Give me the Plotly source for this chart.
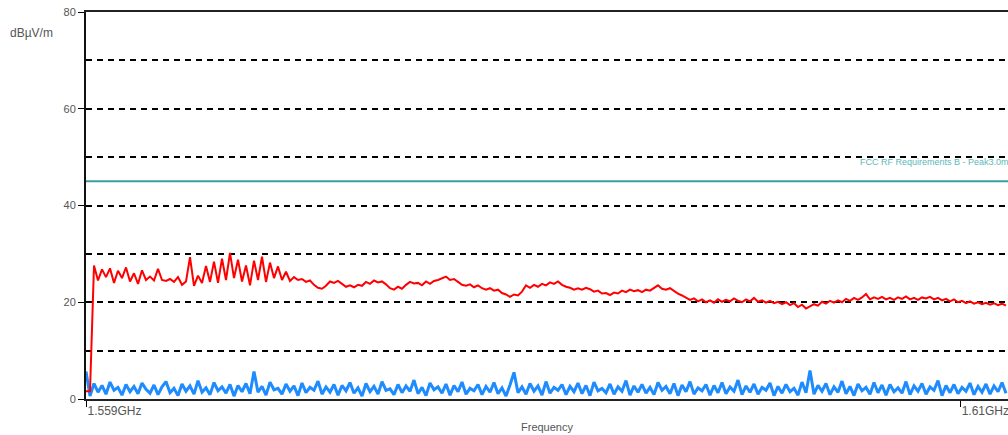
import plotly.graph_objects as go

# ---- data ----
freq_start_mhz = 1559.0
px_per_mhz = 17.14
freq_step_mhz = 4 / px_per_mhz     # sweep point spacing
limit_name = "FCC RF Requirements B - Peak3.0m"
limit_db = [45.0, 45.0]

peak_db = [
    1.6, 1.6, 27.6, 24.5, 26.8, 25.2, 27.0, 24.0, 26.5, 25.0,
    27.2, 24.3, 26.0, 23.8, 26.6, 24.6, 25.3, 24.5, 26.9, 24.6,
    24.4, 24.8, 24.2, 25.2, 23.6, 24.3, 29.3, 23.4, 25.5, 24.0,
    27.5, 24.2, 28.4, 24.0, 29.0, 24.6, 30.2, 25.0, 28.8, 24.3,
    27.6, 23.5, 28.6, 24.6, 29.4, 24.2, 28.2, 25.0, 27.4, 24.6,
    26.3, 24.4, 25.2, 24.6, 24.8, 24.2, 24.5, 23.6, 23.0, 22.8,
    23.4, 24.3, 24.0, 24.4, 23.8, 23.2, 23.5, 23.1, 23.6, 23.4,
    24.2, 23.8, 24.5, 24.1, 24.3, 23.7, 22.9, 22.6, 23.2, 22.8,
    23.6, 24.2, 23.9, 24.0, 23.5, 24.3, 23.8, 24.4, 24.6, 24.9,
    25.3, 24.6, 24.8, 24.2, 23.6, 23.4, 23.7, 23.1, 23.5, 22.9,
    22.6, 22.9, 22.4, 22.6, 21.9, 21.6, 21.1, 21.6, 21.4, 22.2,
    23.5, 23.0, 23.6, 23.2, 23.8, 23.5, 24.1, 23.8, 24.3, 23.6,
    23.2, 23.0, 22.6, 22.9, 22.6, 23.0, 22.7, 22.2, 22.4, 21.8,
    21.9, 21.5, 22.0, 21.8, 22.4, 22.1, 22.6, 22.3, 22.5, 22.1,
    22.6, 22.4, 23.0, 23.5, 22.8, 22.6, 22.9, 22.3, 21.8, 21.4,
    20.9, 20.5, 20.8, 20.2, 20.6, 20.0, 20.4, 19.9, 20.6, 20.1,
    20.5, 20.2, 20.8, 20.3, 20.0, 20.6, 20.2, 20.9, 20.1, 20.4,
    19.9, 20.3, 19.8, 20.1, 19.6, 20.0, 19.4, 19.8, 19.0, 19.5,
    18.7, 19.2, 19.6, 19.3, 20.1, 19.7, 20.3, 19.9, 20.4, 20.0,
    20.7, 20.3, 20.9, 20.5, 21.0, 21.7, 20.6, 21.0, 20.7, 21.1,
    20.6, 20.9, 20.5, 21.0, 20.7, 21.2, 20.6, 20.9, 20.5, 21.0,
    20.8, 21.1, 20.6, 20.9, 20.4, 20.7, 20.2, 20.6, 20.0, 20.3,
    19.8, 20.2, 19.7, 20.0, 19.6, 19.9, 19.5, 19.8, 19.4, 19.7,
    19.3,
]

noise_db = [
    5.7, 0.6, 3.2, 1.4, 2.8, 1.0, 3.5, 1.8, 2.4, 0.8,
    3.0, 1.5, 2.6, 1.1, 3.3, 2.0, 1.2, 2.9, 0.9, 2.5,
    3.6, 1.3, 2.2, 0.7, 3.1, 1.6, 2.7, 1.0, 3.8, 1.4,
    2.3, 0.9, 3.4, 1.7, 2.5, 1.2, 3.0, 0.6, 2.8, 1.5,
    3.2, 1.1, 5.7, 1.4, 2.6, 0.8, 3.5, 1.9, 2.2, 1.0,
    3.1, 1.6, 2.7, 0.7, 3.3, 1.3, 2.4, 1.8, 3.7, 1.0,
    2.5, 1.4, 3.0, 0.8, 2.8, 1.7, 3.4, 1.2, 2.3, 0.6,
    3.2, 1.5, 2.6, 1.0, 3.6, 1.8, 2.1, 0.9, 3.0, 1.3,
    2.7, 1.6, 3.9, 1.1, 2.4, 0.7, 3.3, 1.9, 2.5, 1.2,
    3.1, 0.8, 2.8, 1.5, 3.5, 1.0, 2.2, 1.7, 3.0, 0.9,
    2.6, 1.4, 3.4, 1.1, 2.3, 0.6, 2.9, 5.5, 1.3, 2.5,
    1.0, 3.2, 1.6, 2.7, 0.8, 3.6, 1.2, 2.4, 1.8, 3.0,
    0.9, 2.6, 1.5, 3.3, 1.1, 2.8, 0.7, 3.5, 1.7, 2.2,
    1.3, 3.1, 1.0, 2.5, 1.6, 3.8, 0.8, 2.7, 1.4, 3.0,
    1.2, 2.4, 0.9, 3.4, 1.8, 2.6, 1.1, 3.2, 0.7, 2.9,
    1.5, 3.6, 1.0, 2.3, 1.7, 3.0, 0.8, 2.8, 1.3, 3.4,
    1.1, 2.5, 1.6, 3.9, 0.9, 2.7, 1.4, 3.1, 1.0, 2.4,
    1.8, 3.3, 0.7, 2.6, 1.2, 3.0, 1.5, 2.2, 0.8, 3.5,
    1.3, 5.9, 1.0, 2.8, 1.6, 3.2, 0.9, 2.5, 1.4, 3.7,
    1.1, 2.6, 0.7, 3.1, 1.7, 2.4, 1.0, 3.4, 1.3, 2.9,
    0.8, 3.0, 1.5, 2.3, 1.2, 3.6, 0.9, 2.7, 1.6, 3.2,
    1.0, 2.5, 1.8, 3.8, 0.7, 2.8, 1.3, 3.0, 1.1, 2.4,
    1.6, 3.3, 0.9, 2.6, 1.4, 3.1, 1.0, 2.7, 1.5, 3.4,
    1.2,
]

x_tick_vals = [1559, 1610]
x_tick_text = ["1.559GHz", "1.61GHz"]
y_tick_vals = [0, 20, 40, 60, 80]
y_tick_text = ["0", "20", "40", "60", "80"]

# ---- build ----
peak_f = [freq_start_mhz + freq_step_mhz * i for i in range(len(peak_db))]
noise_f = [freq_start_mhz + freq_step_mhz * i for i in range(len(noise_db))]
x_max = freq_start_mhz + 922 / px_per_mhz
limit_f = [freq_start_mhz, x_max]

FONT = "Liberation Sans, Arial, sans-serif"
TEAL = "#3a9e9e"

fig = go.Figure()
fig.add_trace(go.Scatter(x=limit_f, y=limit_db, mode="lines",
                         line=dict(color=TEAL, width=2), hoverinfo="skip"))
fig.add_trace(go.Scatter(x=noise_f, y=noise_db, mode="lines",
                         line=dict(color="#1e8cff", width=3)))
fig.add_trace(go.Scatter(x=peak_f, y=peak_db, mode="lines",
                         line=dict(color="#ff0000", width=2)))

fig.update_layout(
    width=1008, height=435,
    margin=dict(l=86, r=0, t=12, b=36, autoexpand=False),
    paper_bgcolor="white", plot_bgcolor="white",
    showlegend=False,
    font=dict(family=FONT, size=11, color="#555555"),
)
fig.update_xaxes(
    automargin=False,
    range=[freq_start_mhz, x_max],
    tickvals=x_tick_vals, ticktext=x_tick_text,
    ticklabelposition="outside right", ticklabeloverflow="allow",
    ticks="outside", ticklen=6, tickcolor="#000000", tickwidth=1,
    showline=True, linecolor="#222222", linewidth=2, mirror=True,
    showgrid=False, zeroline=False,
    tickfont=dict(size=12, color="#555555"),
)
fig.update_yaxes(
    automargin=False,
    range=[0, 80],
    tickvals=y_tick_vals, ticktext=y_tick_text, ticklabeloverflow="allow",
    ticks="outside", ticklen=6, tickcolor="#000000", tickwidth=1,
    showline=True, linecolor="#111111", linewidth=2,
    showgrid=True, gridcolor="#000000", gridwidth=1.5, griddash="6px,5px",
    minor=dict(dtick=10, showgrid=True, gridcolor="#000000", gridwidth=1.5,
               griddash="6px,5px", ticks=""),
    zeroline=False,
    tickfont=dict(size=11, color="#555555"),
)

fig.add_annotation(text="dBµV/m", xref="paper", yref="paper", x=-0.0846, y=0.946,
                   xanchor="left", yanchor="middle", showarrow=False,
                   font=dict(size=12, color="#555555", family=FONT))
fig.add_annotation(text="Frequency", xref="paper", yref="paper", x=0.5, y=-0.072,
                   xanchor="center", yanchor="middle", showarrow=False,
                   font=dict(size=11, color="#555555", family=FONT))
fig.add_annotation(text=limit_name, x=1604.05, y=49.0, xref="x", yref="y",
                   xanchor="left", yanchor="middle", showarrow=False,
                   font=dict(size=9, color="#5cb8b8", family=FONT))

# remove the default 8px page margin so the figure fills the window exactly
fig.write_html(
    "out.html",
    config={"displayModeBar": False},
    post_script="document.body.style.margin='0';document.body.style.overflow='hidden';",
)
